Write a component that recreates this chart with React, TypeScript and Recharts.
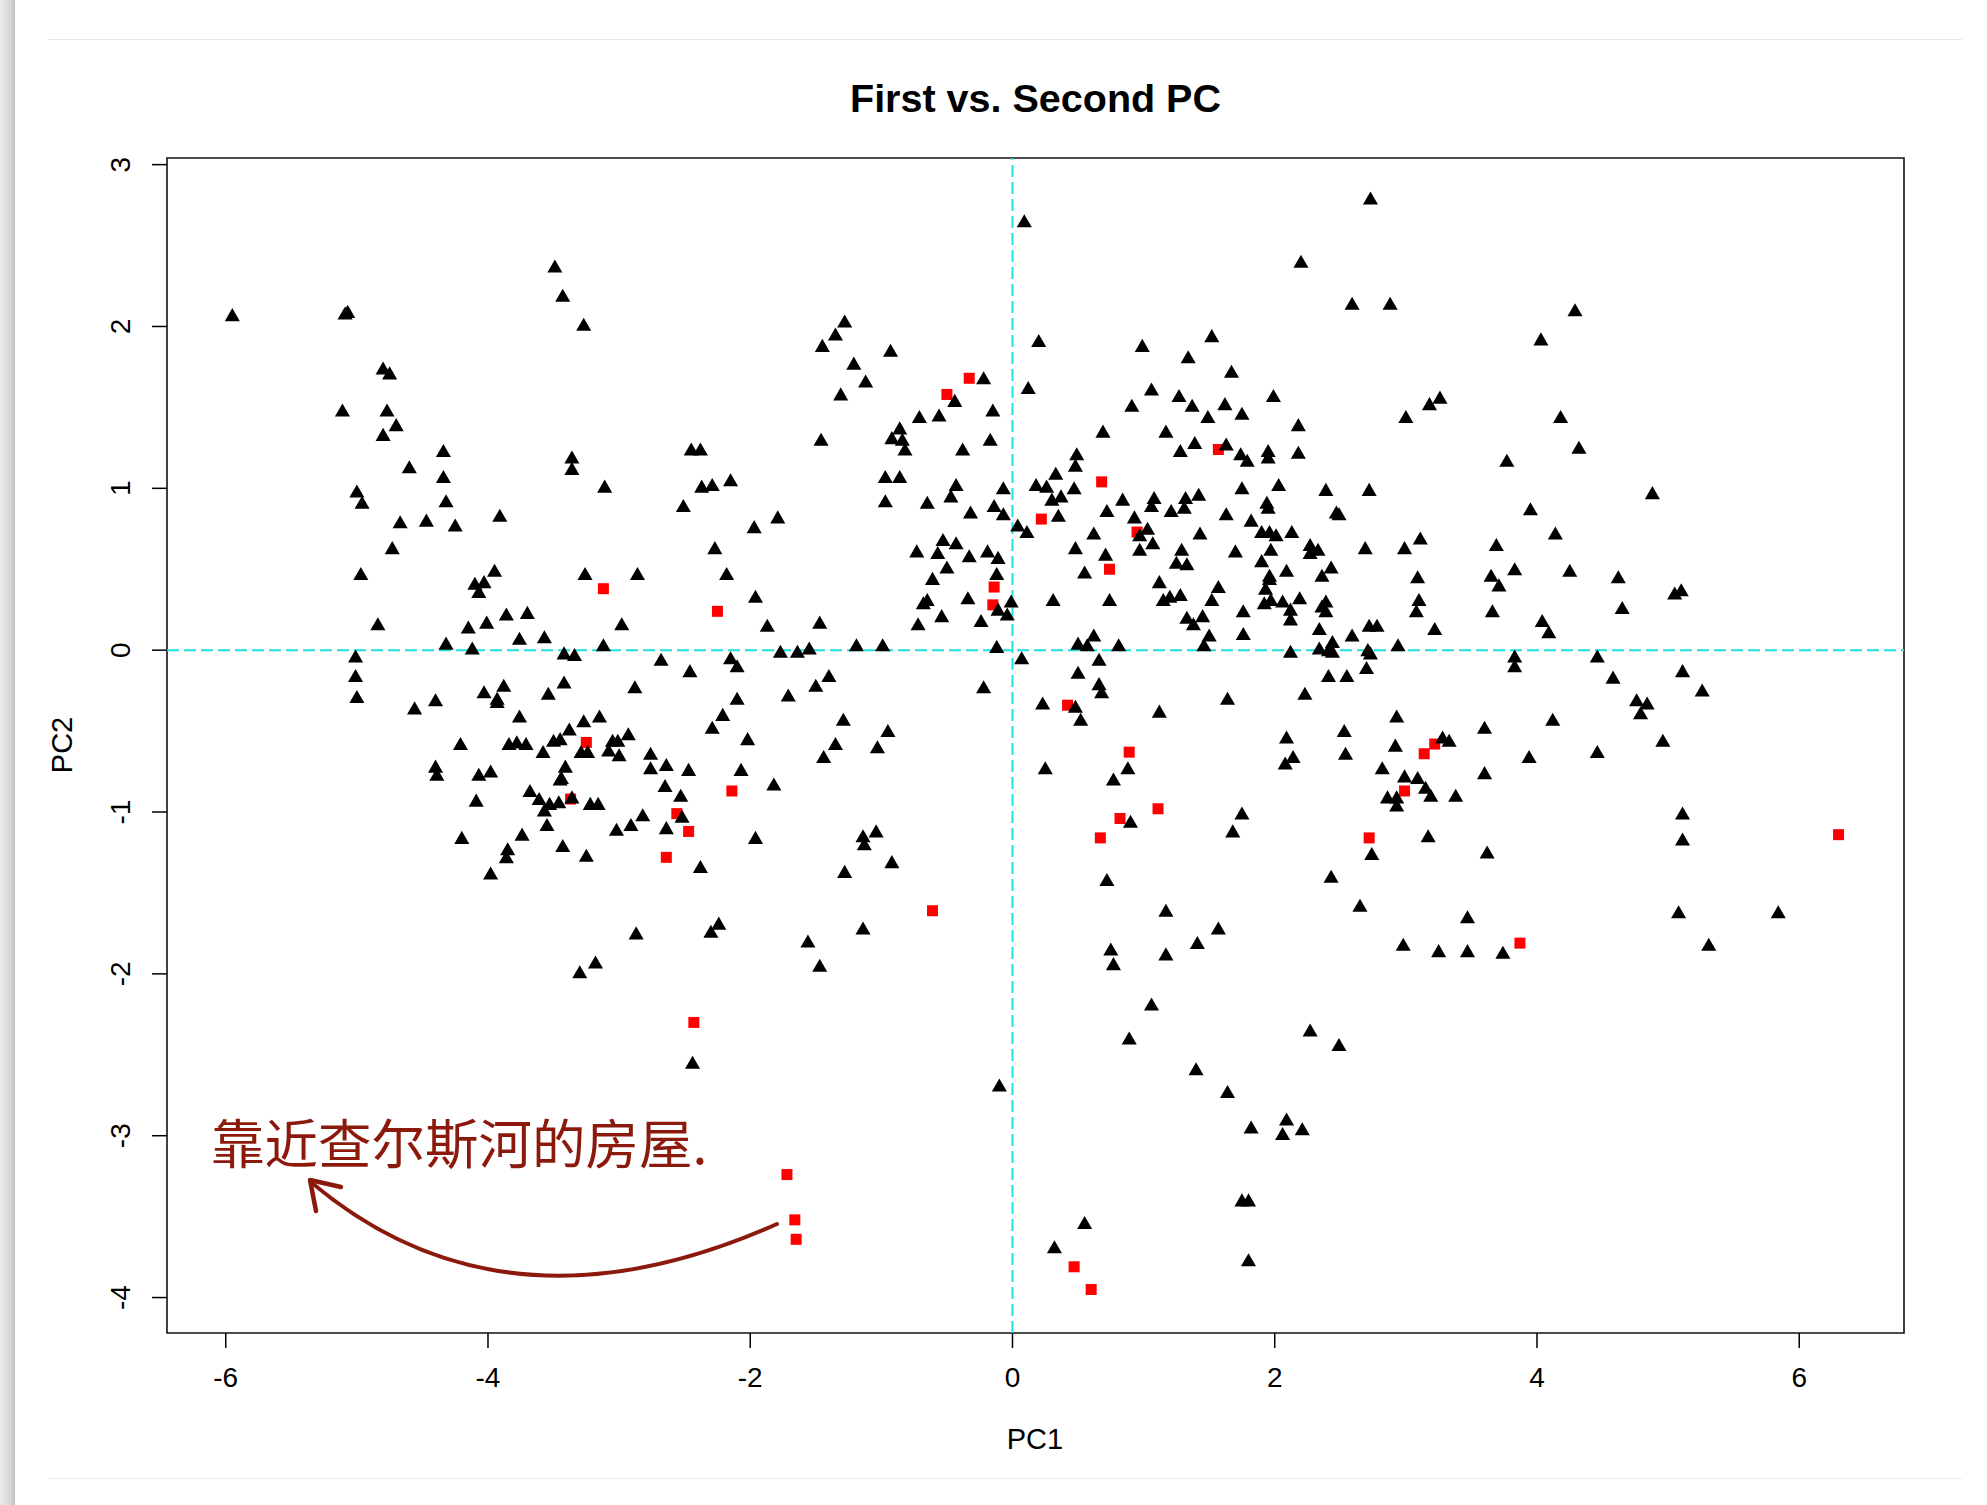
import { ReferenceArea, ReferenceLine, Scatter, ScatterChart, XAxis, YAxis } from "recharts";

// PC1 / PC2 scores
// houses bordering the Charles River (red squares)
const riverHouses: [number, number][] = [
  [-3.12, 0.38], [-2.25, 0.24], [-3.25, -0.57], [-3.37, -0.92], [-2.56, -1.01], [-2.47, -1.12], [-2.64, -1.28], [-2.14, -0.87],
  [-0.33, 1.68], [-0.5, 1.58], [1.57, 1.24], [0.68, 1.04], [0.22, 0.81], [0.95, 0.73], [0.74, 0.5],
  [-0.14, 0.39], [-0.15, 0.28], [0.42, -0.34], [0.89, -0.63], [1.11, -0.98], [0.82, -1.04], [0.67, -1.16], [-0.61, -1.61],
  [3.22, -0.58], [3.14, -0.64], [2.99, -0.87], [6.3, -1.14], [2.72, -1.16], [3.87, -1.81],
  [-2.43, -2.3], [-1.72, -3.24], [-1.66, -3.52], [-1.65, -3.64], [0.47, -3.81], [0.6, -3.95],
];

// every other house (black triangles)
const otherHouses: [number, number][] = [
  // upper left
  [-5.95, 2.06], [-5.09, 2.07], [-5.07, 2.08], [-3.49, 2.36], [-3.43, 2.18], [-3.27, 2.0], [-4.8, 1.73], [-4.75, 1.7],
  [-5.11, 1.47], [-4.77, 1.47], [-4.7, 1.38], [-4.8, 1.32], [-4.34, 1.22], [-4.6, 1.12], [-4.34, 1.06], [-5.0, 0.97],
  [-4.96, 0.9], [-4.32, 0.91], [-4.67, 0.78], [-4.47, 0.79], [-4.25, 0.76], [-3.91, 0.82], [-4.73, 0.62], [-3.36, 1.18],
  [-3.36, 1.11], [-3.11, 1.0], [-2.45, 1.23], [-2.38, 1.23], [-2.37, 1.0], [-2.29, 1.01], [-2.15, 1.04], [-2.51, 0.88],
  [-1.97, 0.75], [-2.27, 0.62],
  // left cluster
  [-4.97, 0.46], [-4.84, 0.15], [-3.95, 0.48], [-4.1, 0.4], [-4.03, 0.41], [-4.07, 0.35], [-3.86, 0.21], [-3.7, 0.22],
  [-4.01, 0.16], [-4.15, 0.13], [-4.32, 0.03], [-4.12, 0.0], [-3.76, 0.06], [-3.57, 0.07], [-3.26, 0.46], [-2.86, 0.46],
  [-2.18, 0.46], [-2.98, 0.15], [-3.12, 0.02], [-3.42, -0.03], [-3.34, -0.04], [-2.68, -0.07], [-2.46, -0.14], [-2.15, -0.06],
  [-2.1, -0.11], [-1.96, 0.32], [-5.01, -0.05], [-5.01, -0.17], [-5.0, -0.3], [-4.56, -0.37], [-4.4, -0.32], [-4.03, -0.27],
  [-3.88, -0.23], [-3.93, -0.31], [-3.93, -0.33], [-3.54, -0.28], [-3.42, -0.21], [-2.88, -0.24], [-3.76, -0.42], [-3.27, -0.45],
  [-3.15, -0.42], [-3.38, -0.5], [-3.45, -0.56], [-3.5, -0.57], [-3.58, -0.64], [-4.21, -0.59], [-3.84, -0.59], [-3.78, -0.58],
  [-3.71, -0.59], [-3.29, -0.64], [-3.24, -0.64], [-3.05, -0.57], [-3.01, -0.57], [-2.93, -0.53], [-3.08, -0.63], [-3.0, -0.66],
  [-3.41, -0.73], [-3.44, -0.8], [-3.45, -0.81], [-4.4, -0.73], [-4.39, -0.78], [-4.07, -0.78], [-3.98, -0.76], [-4.09, -0.94],
  [-3.68, -0.88], [-3.61, -0.93], [-3.57, -1.0], [-3.53, -0.96], [-3.46, -0.95], [-3.36, -0.92], [-3.22, -0.96], [-3.16, -0.96],
  [-3.55, -1.09], [-3.74, -1.15], [-3.85, -1.24], [-3.86, -1.29], [-3.98, -1.39], [-4.2, -1.17], [-3.43, -1.22], [-3.25, -1.28],
  [-3.02, -1.12], [-2.91, -1.09], [-2.82, -1.03], [-2.76, -0.65], [-2.76, -0.74], [-2.64, -0.72], [-2.47, -0.75], [-2.65, -0.85],
  [-2.53, -0.91], [-2.52, -1.04], [-2.64, -1.11], [-2.38, -1.35], [-2.29, -0.49], [-2.21, -0.41], [-2.1, -0.31], [-2.02, -0.56],
  [-2.07, -0.75], [-1.96, -1.17], [-2.87, -1.76], [-2.3, -1.75], [-2.24, -1.7],
  // upper middle
  [0.09, 2.64], [2.2, 2.39], [-1.28, 2.02], [-1.35, 1.94], [-1.45, 1.87], [-0.93, 1.84], [-1.21, 1.76], [-1.12, 1.65],
  [-1.31, 1.57], [0.2, 1.9], [0.12, 1.61], [-0.22, 1.67], [-0.44, 1.53], [-0.15, 1.47], [-0.71, 1.43], [-0.56, 1.44],
  [-1.46, 1.29], [-0.86, 1.36], [-0.92, 1.3], [-0.84, 1.29], [-0.82, 1.23], [-0.38, 1.23], [-0.17, 1.29], [-0.97, 1.06],
  [-0.86, 1.06], [-0.97, 0.91], [-0.65, 0.9], [-0.43, 1.01], [-0.47, 0.94], [-0.32, 0.84], [-0.14, 0.88], [-1.79, 0.81],
  [-0.53, 0.67], [-0.43, 0.65], [-0.73, 0.6], [-0.57, 0.59], [-0.33, 0.57], [-0.19, 0.6], [-0.11, 0.56], [0.99, 1.87],
  [1.52, 1.93], [1.34, 1.8], [1.67, 1.71], [1.06, 1.6], [1.27, 1.56], [1.99, 1.56],
  // upper right
  [2.73, 2.78], [2.59, 2.13], [2.88, 2.13], [4.29, 2.09], [4.03, 1.91], [3.26, 1.55], [4.18, 1.43], [4.32, 1.24],
  [3.77, 1.16], [4.88, 0.96], [3.95, 0.86], [4.14, 0.71], [3.69, 0.64],
  // dense centre
  [0.91, 1.5], [1.37, 1.5], [1.62, 1.51], [1.49, 1.43], [1.75, 1.45], [2.18, 1.38], [3.0, 1.43], [3.18, 1.51],
  [0.69, 1.34], [1.17, 1.34], [0.49, 1.2], [0.48, 1.13], [1.28, 1.22], [1.39, 1.27], [1.63, 1.26], [1.74, 1.2],
  [1.79, 1.16], [1.95, 1.22], [1.95, 1.18], [2.18, 1.21], [0.33, 1.08], [0.18, 1.01], [0.26, 1.0], [0.47, 0.99],
  [0.3, 0.92], [0.37, 0.94], [0.35, 0.82], [-0.07, 0.99], [-0.07, 0.83], [0.04, 0.76], [0.11, 0.72], [0.84, 0.92],
  [0.72, 0.85], [1.08, 0.93], [1.06, 0.88], [1.32, 0.93], [1.31, 0.87], [1.42, 0.95], [1.21, 0.85], [0.93, 0.81],
  [1.75, 0.99], [2.03, 1.01], [1.63, 0.83], [1.94, 0.9], [1.95, 0.87], [1.82, 0.79], [2.39, 0.98], [2.72, 0.98],
  [2.47, 0.84], [2.49, 0.83], [1.03, 0.74], [0.97, 0.7], [1.07, 0.65], [0.97, 0.61], [0.62, 0.71], [0.48, 0.62],
  [0.71, 0.58], [0.55, 0.47], [1.43, 0.71], [1.29, 0.61], [1.25, 0.53], [1.33, 0.52], [1.7, 0.6], [1.9, 0.72],
  [1.96, 0.72], [2.01, 0.7], [2.13, 0.72], [1.97, 0.61], [1.9, 0.54], [1.96, 0.45], [1.96, 0.43], [2.09, 0.48],
  [2.27, 0.64], [2.33, 0.61], [2.27, 0.59], [2.43, 0.5], [2.36, 0.45], [2.69, 0.62], [2.99, 0.62], [3.11, 0.68],
  [3.09, 0.44], [3.1, 0.3], [3.08, 0.23], [3.22, 0.12], [2.72, 0.14], [2.78, 0.14], [2.59, 0.08], [2.94, 0.02],
  [2.71, -0.01], [2.73, -0.03], [2.7, -0.12], [2.41, -0.17], [2.55, -0.17], [2.34, 0.12], [2.34, 0.0], [2.41, -0.01],
  [2.44, 0.04], [2.44, -0.02], [2.36, 0.26], [2.39, 0.29], [2.39, 0.23], [2.19, 0.31], [2.12, -0.02], [2.06, 0.29],
  [2.12, 0.24], [2.12, 0.18], [1.92, 0.28], [1.97, 0.3], [1.93, 0.37], [1.76, 0.23], [1.76, 0.09], [1.57, 0.38],
  [1.52, 0.3], [1.33, 0.19], [1.38, 0.15], [1.45, 0.2], [1.5, 0.08], [1.46, 0.02], [1.12, 0.41], [1.15, 0.3],
  [1.2, 0.32], [1.28, 0.33], [0.81, 0.02], [0.74, 0.3], [0.31, 0.3], [0.5, 0.03], [0.57, 0.02], [0.62, 0.08],
  [0.66, -0.07], [0.5, -0.15], [0.66, -0.22], [0.07, -0.06], [-0.01, 0.29], [-0.04, 0.21],
  // right side
  [3.65, 0.45], [3.71, 0.39], [3.83, 0.49], [4.25, 0.48], [4.62, 0.44], [5.05, 0.34], [5.1, 0.36], [4.65, 0.25],
  [3.66, 0.23], [4.04, 0.17], [4.09, 0.1], [3.83, -0.05], [3.83, -0.11], [4.46, -0.05], [4.58, -0.18], [5.11, -0.14],
  [5.26, -0.26], [4.76, -0.32], [4.84, -0.34], [4.79, -0.4], [2.93, -0.42], [4.12, -0.44], [4.96, -0.57], [2.53, -0.51],
  [3.6, -0.49], [3.28, -0.55], [3.33, -0.57], [2.92, -0.6], [2.54, -0.65], [3.94, -0.67], [4.46, -0.64], [2.82, -0.74],
  [2.99, -0.79], [3.09, -0.8], [3.6, -0.77], [3.15, -0.86], [3.19, -0.91], [2.86, -0.92], [2.93, -0.92], [2.93, -0.97],
  [3.38, -0.91], [5.11, -1.02], [5.11, -1.18], [3.17, -1.16], [2.74, -1.27], [3.62, -1.26], [2.43, -1.41], [2.65, -1.59],
  [3.47, -1.66], [5.08, -1.63], [5.84, -1.63], [2.98, -1.83], [3.25, -1.87], [3.47, -1.87], [3.74, -1.88], [5.31, -1.83],
  // lower middle
  [-0.5, 0.5], [-0.12, 0.46], [-0.61, 0.43], [-0.34, 0.31], [-0.65, 0.3], [-0.68, 0.28], [-0.11, 0.24], [-0.54, 0.2],
  [-0.24, 0.17], [-0.72, 0.15], [-1.87, 0.14], [-1.47, 0.16], [-1.77, -0.02], [-1.64, -0.02], [-1.55, 0.0], [-1.19, 0.02],
  [-0.99, 0.02], [-0.12, 0.01], [0.68, -0.27], [-1.4, -0.17], [-1.5, -0.23], [-1.71, -0.29], [-0.22, -0.24], [0.23, -0.34],
  [0.48, -0.36], [0.52, -0.44], [1.12, -0.39], [1.64, -0.31], [2.23, -0.28], [-1.29, -0.44], [-0.95, -0.51], [-1.35, -0.59],
  [-1.03, -0.61], [-1.44, -0.67], [-1.82, -0.84], [0.88, -0.74], [0.77, -0.81], [0.25, -0.74], [2.09, -0.55], [2.14, -0.67],
  [2.08, -0.71], [0.9, -1.07], [1.75, -1.02], [1.68, -1.13], [0.72, -1.43], [-1.14, -1.16], [-1.04, -1.13], [-1.13, -1.21],
  [-0.92, -1.32], [-1.28, -1.38], [-1.14, -1.73], [-1.56, -1.81], [1.17, -1.62], [1.57, -1.73], [1.41, -1.82], [0.75, -1.86],
  [1.17, -1.89],
  // bottom
  [-3.3, -2.0], [-3.18, -1.94], [-1.47, -1.96], [-2.44, -2.56], [-0.1, -2.7],
  [0.77, -1.95], [1.06, -2.2], [0.89, -2.41], [2.27, -2.36], [2.49, -2.45], [1.4, -2.6], [1.64, -2.74], [1.82, -2.96],
  [2.09, -2.91], [2.06, -3.0], [2.21, -2.97], [1.75, -3.41], [1.8, -3.41], [0.55, -3.55], [0.32, -3.7], [1.8, -3.78],
];

const xTicks = [-6, -4, -2, 0, 2, 4, 6];
const yTicks = [-4, -3, -2, -1, 0, 1, 2, 3];
const xDomain: [number, number] = [-6.448, 6.799];
const yDomain: [number, number] = [-4.219, 3.041];

const FONT = '"Liberation Sans", Arial, Helvetica, sans-serif';
const ANNOT = "#8b1a0c";

const river = riverHouses.map(([x, y]) => ({ x, y }));
const others = otherHouses.map(([x, y]) => ({ x, y }));

// R pch 17: filled equilateral triangle centred on the point
const Triangle = (props: any) => {
  const { cx, cy } = props;
  const s = 5.6;
  const top = cy - 1.555 * s;
  const base = cy + 0.778 * s;
  const hw = 1.347 * s;
  return <polygon points={`${cx},${top} ${cx + hw},${base} ${cx - hw},${base}`} fill="#000" />;
};

// R pch 15: filled square
const Square = (props: any) => {
  const { cx, cy } = props;
  return <rect x={cx - 5.5} y={cy - 5.5} width={11} height={11} fill="#ff0000" />;
};

const YTick = (props: any) => {
  const { x, y, payload } = props;
  return (
    <text
      x={0}
      y={0}
      transform={`translate(${x - 30},${y}) rotate(-90)`}
      textAnchor="middle"
      dy="0.36em"
      fontSize={28}
      fontFamily={FONT}
      fill="#000"
    >
      {payload.value}
    </text>
  );
};

export default function App() {
  return (
    <div style={{ position: "absolute", left: 0, top: 0, width: 1987, height: 1505, background: "#fff", overflow: "hidden" }}>
      {/* screenshot edges */}
      <div
        style={{
          position: "absolute",
          left: 0,
          top: 0,
          width: 15,
          height: 1505,
          background: "linear-gradient(to right, #ececec, #d2d2d2 80%, #bdbdbd)",
        }}
      />
      <div style={{ position: "absolute", left: 48, top: 39, width: 1914, height: 1, background: "#e8e8e8" }} />
      <div style={{ position: "absolute", left: 48, top: 1478, width: 1914, height: 1, background: "#ececec" }} />

      <ScatterChart width={1987} height={1505} margin={{ top: 158, right: 83, bottom: 112, left: 107 }}>
        <XAxis
          type="number"
          dataKey="x"
          domain={xDomain}
          ticks={xTicks}
          interval={0}
          allowDataOverflow
          axisLine={false}
          tickSize={15}
          tickMargin={19}
          tickLine={{ stroke: "#000", strokeWidth: 1.5 }}
          tick={{ fontSize: 28, fill: "#000", fontFamily: FONT }}
          height={60}
        />
        <YAxis
          type="number"
          dataKey="y"
          domain={yDomain}
          ticks={yTicks}
          interval={0}
          allowDataOverflow
          axisLine={false}
          tickSize={15}
          tickLine={{ stroke: "#000", strokeWidth: 1.5 }}
          tick={<YTick />}
          width={60}
        />
        <Scatter data={river} shape={Square} isAnimationActive={false} />
        <Scatter data={others} shape={Triangle} isAnimationActive={false} />
        <ReferenceLine x={0} stroke="#1fe0e0" strokeWidth={2} strokeDasharray="12 5" />
        <ReferenceLine y={0} stroke="#1fe0e0" strokeWidth={2} strokeDasharray="12 5" />
        <ReferenceArea
          x1={xDomain[0]}
          x2={xDomain[1]}
          y1={yDomain[0]}
          y2={yDomain[1]}
          fill="none"
          fillOpacity={0}
          stroke="#111"
          strokeWidth={1.6}
        />
      </ScatterChart>

      <svg width={1987} height={1505} style={{ position: "absolute", left: 0, top: 0, pointerEvents: "none" }}>
        <text x={1035.5} y={112} textAnchor="middle" fontFamily={FONT} fontWeight="bold" fontSize={39.5} fill="#000">
          First vs. Second PC
        </text>
        <text x={1035} y={1449} textAnchor="middle" fontFamily={FONT} fontSize={29} fill="#000">
          PC1
        </text>
        <text
          x={0}
          y={0}
          transform="translate(61.5,745) rotate(-90)"
          textAnchor="middle"
          dy="0.36em"
          fontFamily={FONT}
          fontSize={29}
          fill="#000"
        >
          PC2
        </text>
        <text x={211} y={1164} fontFamily='"Noto Sans CJK SC", sans-serif' fontSize={53.5} fill={ANNOT}>
          靠近查尔斯河的房屋.
        </text>
        <path d="M777,1224 Q505,1345 312,1183" fill="none" stroke={ANNOT} strokeWidth={4} strokeLinecap="round" />
        <polyline
          points="341,1187 310,1180 316,1211"
          fill="none"
          stroke={ANNOT}
          strokeWidth={4.5}
          strokeLinecap="round"
          strokeLinejoin="round"
        />
      </svg>
    </div>
  );
}
